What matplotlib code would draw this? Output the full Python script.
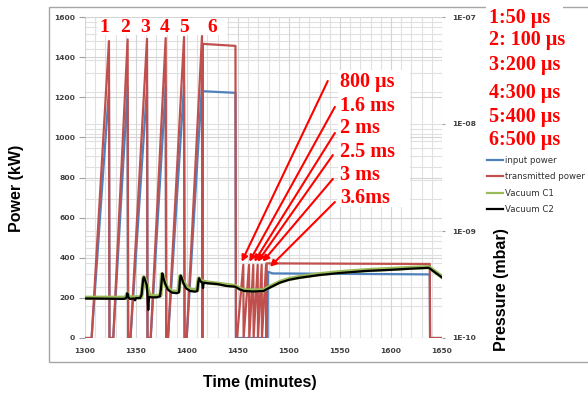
import numpy as np
import matplotlib
matplotlib.use("Agg")
import matplotlib.pyplot as plt
from matplotlib.patches import Rectangle
from matplotlib.lines import Line2D
from matplotlib.ticker import MultipleLocator, LogLocator, NullFormatter, FixedLocator

# ---------------- data ----------------
red_t = [1300, 1306.5, 1323.5, 1324.0, 1327.7, 1341.8, 1342.3, 1344.6, 1360.8, 1361.3,
         1364.4, 1379.1, 1379.6, 1381.4, 1397.1, 1397.6, 1399.7, 1414.7, 1415.0, 1415.5,
         1447.5, 1448.0, 1449.0, 1455.2, 1455.5, 1460.8, 1461.1, 1465.0, 1465.3, 1469.3,
         1469.6, 1473.2, 1473.5, 1477.5, 1477.8, 1478.0, 1638.0, 1638.3, 1650]
red_p = [0, 0, 1480, 0, 0, 1488, 0, 0, 1491, 0,
         0, 1495, 0, 0, 1500, 0, 0, 1505, 0, 1466,
         1456, 0, 0, 365, 0, 365, 0, 365, 0, 365,
         0, 365, 0, 365, 0, 372, 369, 0, 0]

blue_t = [1300, 1306.5, 1323.5, 1324.0, 1327.7, 1341.8, 1342.3, 1344.6, 1360.8, 1361.3,
          1364.4, 1379.1, 1379.6, 1381.4, 1397.1, 1397.6, 1399.7, 1414.7, 1415.0, 1415.5,
          1447.5, 1448.0, 1479.0, 1479.3, 1484.0, 1638.0, 1638.3, 1650]
blue_p = [0, 0, 1240, 0, 0, 1250, 0, 0, 1250, 0,
          0, 1255, 0, 0, 1260, 0, 0, 1265, 0, 1230,
          1222, 0, 0, 330, 322, 317, 0, 0]

# vacuum (units of 1e-10 mbar)
c2_t = [1300, 1320, 1338, 1340.5, 1341.5, 1342.5, 1344, 1348, 1349, 1350,
        1354, 1355.5, 1357, 1357.8, 1359, 1360.5, 1361.2, 1362, 1362.8, 1365,
        1370, 1373.5, 1374.5, 1375.8, 1377, 1378.5, 1381, 1385, 1390, 1392.2,
        1393, 1393.8, 1395, 1396.5, 1399, 1403, 1408, 1410.1, 1411, 1411.8,
        1413.5, 1415, 1415.7, 1416.4, 1420, 1430, 1439, 1447, 1452, 1456,
        1465, 1475, 1480, 1491, 1500, 1510, 1530, 1550, 1575, 1600,
        1620, 1637, 1650]
c2_v = [2.34, 2.33, 2.32, 2.36, 2.62, 2.40, 2.32, 2.34, 2.25, 2.36,
        2.36, 2.55, 3.55, 3.70, 3.45, 3.13, 2.60, 1.83, 2.42, 2.40,
        2.40, 2.45, 2.90, 4.01, 3.60, 3.25, 2.85, 2.66, 2.62, 2.68,
        3.40, 3.83, 3.60, 3.25, 2.92, 2.75, 2.71, 2.75, 3.30, 3.62,
        3.36, 3.30, 2.93, 3.29, 3.25, 3.19, 3.06, 3.02, 2.84, 2.75,
        2.72, 2.75, 2.92, 3.29, 3.50, 3.65, 3.88, 4.05, 4.23, 4.34,
        4.45, 4.53, 3.68]

c1_t = [1300, 1340, 1341.5, 1343, 1355, 1356, 1357.5, 1359, 1361, 1363,
        1370, 1374, 1375.5, 1377.5, 1380, 1385, 1391.5, 1393.5, 1396, 1400,
        1405, 1410, 1411.5, 1414, 1420, 1430, 1447, 1452, 1456, 1475,
        1480, 1491, 1500, 1510, 1530, 1550, 1575, 1600, 1620, 1637, 1650]
c1_v = [2.38, 2.38, 2.60, 2.40, 2.40, 2.70, 3.70, 3.50, 3.00, 2.50,
        2.45, 2.50, 3.95, 3.55, 3.00, 2.72, 2.70, 3.80, 3.40, 2.95,
        2.80, 2.80, 3.60, 3.40, 3.30, 3.22, 3.06, 2.88, 2.79, 2.79,
        2.97, 3.34, 3.56, 3.71, 3.95, 4.13, 4.30, 4.42, 4.53, 4.60, 3.72]
c1_v = np.array(c1_v) * 1e-10
c2_v = np.array(c2_v) * 1e-10

x_ticks = [1300, 1350, 1400, 1450, 1500, 1550, 1600, 1650]
y_ticks = [0, 200, 400, 600, 800, 1000, 1200, 1400, 1600]
p_ticks = [1e-10, 1e-9, 1e-8, 1e-7]
p_tick_labels = ["1E-10", "1E-09", "1E-08", "1E-07"]

pulse_numbers = ["1", "2", "3", "4", "5", "6"]
pulse_number_t = [1318.9, 1339.2, 1359.1, 1378.4, 1397.4, 1424.5]
pulse_legend = ["1:50 µs", "2: 100 µs", "3:200 µs", "4:300 µs", "5:400 µs", "6:500 µs"]
short_labels = ["800 µs", "1.6 ms", "2 ms", "2.5 ms", "3 ms", "3.6ms"]
arrow_tip_t = [1453.6, 1461.1, 1466.0, 1469.3, 1474.2, 1481.4]
arrow_tip_p = [380, 380, 380, 380, 380, 355]
arrow_tail_t = [1538, 1545, 1545, 1543, 1543, 1545]
arrow_tail_p = [1281, 1152, 1022, 912, 793, 678]

# ---------------- figure ----------------
W, H = 588, 395
fig = plt.figure(figsize=(W / 100, H / 100), dpi=100)

def fx(px):
    return px / W

def fy(py):
    return 1 - py / H

ax = fig.add_axes([fx(85), fy(338), fx(442) - fx(85), fy(17) - fy(338)])
ax2 = ax.twinx()
ax3 = ax.twinx()
ax2.set_zorder(0)
ax.set_zorder(1)
ax3.set_zorder(2)
ax.patch.set_visible(False)

grid_c = "#E0E0E0"
tick_c = "#404040"
tick_font = dict(family="DejaVu Sans", size=5.4, weight="bold")

# primary axis
ax.set_xlim(1300, 1650)
ax.set_ylim(0, 1600)
ax.xaxis.set_major_locator(FixedLocator(x_ticks))
ax.xaxis.set_minor_locator(MultipleLocator(10))
ax.yaxis.set_major_locator(FixedLocator(y_ticks))
ax.set_axisbelow(True)
ax.grid(which="major", axis="both", color="#D4D4D4", lw=0.8)
ax.grid(which="minor", axis="x", color=grid_c, lw=0.8)
ax.tick_params(axis="y", which="major", length=4, width=0.8, color="#A0A0A0", pad=3, labelcolor=tick_c)
ax.tick_params(axis="x", which="major", length=0, pad=7, labelcolor=tick_c)
ax.tick_params(which="minor", length=0)
for lab in ax.get_xticklabels() + ax.get_yticklabels():
    lab.set(**tick_font)
for s in ax.spines.values():
    s.set_visible(False)

ax.plot(blue_t, blue_p, color="#4F81BD", lw=1.6, zorder=2)
ax.plot(red_t, red_p, color="#C0504D", lw=1.6, zorder=3)

# secondary (grid + labels)
ax2.set_yscale("log")
ax2.set_ylim(1e-10, 1e-7)
ax2.yaxis.set_major_locator(FixedLocator(p_ticks))
ax2.set_yticklabels(p_tick_labels)
ax2.yaxis.set_minor_locator(LogLocator(base=10, subs=np.arange(2, 10)))
ax2.yaxis.set_minor_formatter(NullFormatter())
ax2.grid(which="both", axis="y", color=grid_c, lw=0.8)
ax2.tick_params(axis="y", which="major", length=2.5, width=0.8, color="#A0A0A0", pad=5, labelcolor=tick_c)
ax2.tick_params(which="minor", length=0)
for lab in ax2.get_yticklabels():
    lab.set(**tick_font)
for s in ax2.spines.values():
    s.set_visible(False)

# vacuum curves on top
ax3.set_yscale("log")
ax3.set_ylim(1e-10, 1e-7)
ax3.set_xlim(1300, 1650)
ax3.set_axis_off()
ax3.plot(c1_t, c1_v, color="#9BBB59", lw=3.0, zorder=2)
ax3.plot(c2_t, c2_v, color="black", lw=1.6, zorder=3)

# chart-area border
fig.patches.append(Rectangle((fx(49), fy(362)), fx(640) - fx(49), fy(7) - fy(362),
                             transform=fig.transFigure, fill=False, ec="#A6A6A6", lw=1.0, zorder=0.5))

# axis titles
title_font = dict(family="Liberation Sans", size=11.5, weight="bold", color="black")
fig.text(fx(17), fy(188), "Power (kW)", rotation=90, ha="center", va="center", **title_font)
fig.text(fx(260), fy(383), "Time (minutes)", ha="center", va="center", **title_font)
fig.text(fx(502), fy(290), "Pressure (mbar)", rotation=90, ha="center", va="center", **title_font)

# white boxes behind annotations
fig.patches.append(Rectangle((fx(97), fy(35)), fx(227) - fx(97), fy(18) - fy(35),
                             transform=fig.transFigure, fc="white", ec="none", zorder=1.5))
fig.patches.append(Rectangle((fx(338), fy(207)), fx(410) - fx(338), fy(70) - fy(207),
                             transform=fig.transFigure, fc="white", ec="none", zorder=1.5))
fig.patches.append(Rectangle((fx(486), fy(150)), fx(563) - fx(486), fy(0) - fy(150),
                             transform=fig.transFigure, fc="white", ec="none", zorder=3))

red_font = dict(family="Liberation Serif", weight="bold", color="#FF0000")

for lab, t in zip(pulse_numbers, pulse_number_t):
    px = 85 + (t - 1300) * (442 - 85) / 350
    fig.text(fx(px), fy(28), lab, ha="center", va="center", fontsize=14, zorder=4, **red_font)

pulse_legend_y = [18, 40, 65, 93, 117, 140]
for lab, py in zip(pulse_legend, pulse_legend_y):
    fig.text(fx(489), fy(py), lab, ha="left", va="center", fontsize=14.5, zorder=4, **red_font)

short_y = [82, 106, 128, 152, 175, 198]
for lab, py in zip(short_labels, short_y):
    fig.text(fx(340), fy(py), lab, ha="left", va="center", fontsize=14.5, zorder=4, **red_font)

for tt, tp, st, sp in zip(arrow_tip_t, arrow_tip_p, arrow_tail_t, arrow_tail_p):
    ax.annotate("", xy=(tt, tp), xytext=(st, sp), xycoords="data", textcoords="data",
                arrowprops=dict(arrowstyle="-|>", color="#FF0000", lw=1.5,
                                mutation_scale=9, shrinkA=0, shrinkB=0),
                zorder=5)

# legend
handles = [Line2D([], [], color="#4F81BD", lw=1.6),
           Line2D([], [], color="#C0504D", lw=1.6),
           Line2D([], [], color="#9BBB59", lw=1.6),
           Line2D([], [], color="black", lw=1.6)]
labels = ["input power", "transmitted power", "Vacuum C1", "Vacuum C2"]
leg = fig.legend(handles, labels, loc="center left", bbox_to_anchor=(fx(487), fy(185)),
                 frameon=False, borderpad=0, borderaxespad=0, handlelength=1.9,
                 handletextpad=0.15, labelspacing=0.84,
                 prop=dict(family="DejaVu Sans", size=6.2))
for t in leg.get_texts():
    t.set_color("#303030")

fig.savefig("out.png", dpi=100)
